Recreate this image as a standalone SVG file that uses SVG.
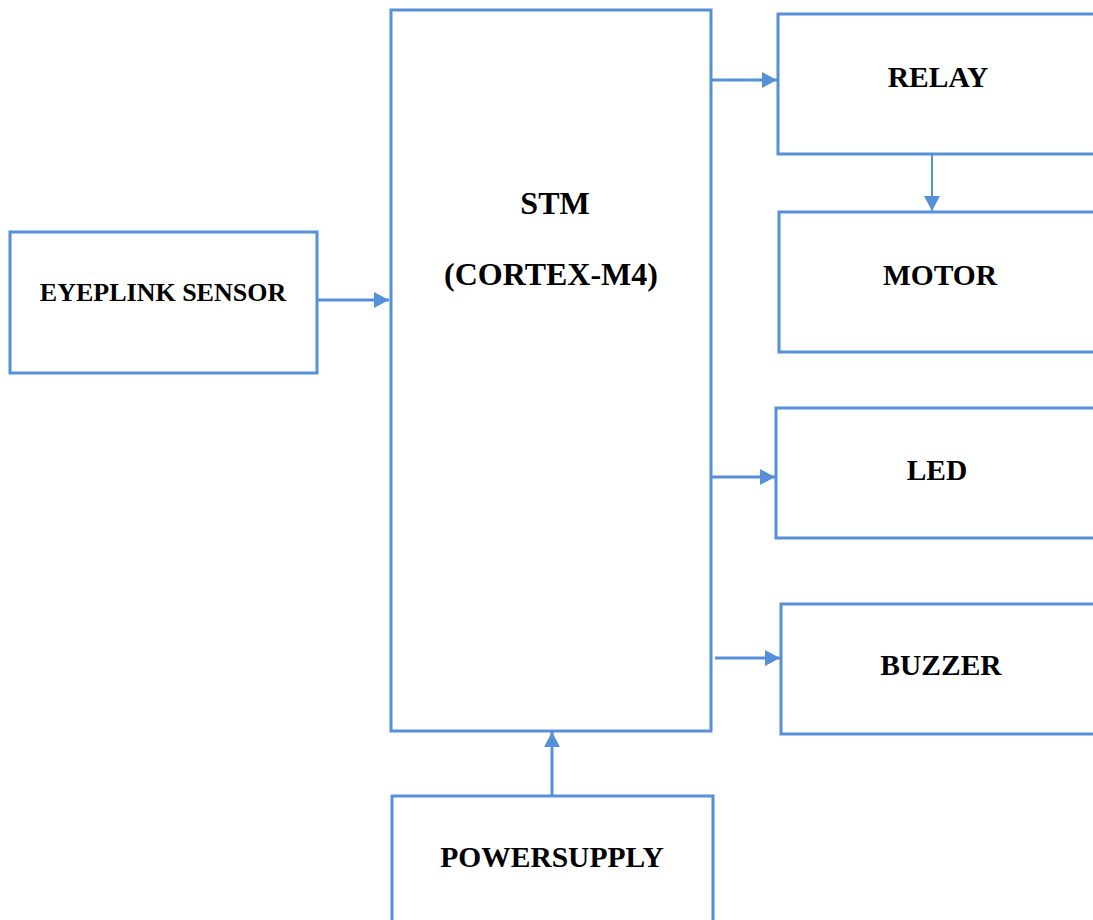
<svg xmlns="http://www.w3.org/2000/svg" width="1093" height="920" viewBox="0 0 1093 920">
<style>
.box{fill:#fff;stroke:#5590D8;stroke-width:3}
.lbl{font-family:"Liberation Serif","Times New Roman",serif;font-weight:bold;font-size:29.5px;fill:#000;text-anchor:middle}
.big{font-size:32px}
.conn{stroke:#5590D8;stroke-width:3;fill:none}
</style>
<defs>
<marker id="ah" markerUnits="userSpaceOnUse" markerWidth="15" markerHeight="16" refX="15" refY="8" orient="auto">
<path d="M0,0 L15,8 L0,16 Z" fill="#5590D8"/>
</marker>
</defs>
<rect width="1093" height="920" fill="#fff"/>
<g id="stm"><rect class="box" x="391" y="10" width="320" height="721"/>
<text class="lbl big" x="555" y="214">STM</text><text class="lbl big" x="551" y="285">(CORTEX-M4)</text></g>
<g id="eyeplink"><rect class="box" x="10" y="232" width="307" height="141"/>
<text class="lbl" x="163" y="301" style="font-size:26px">EYEPLINK SENSOR</text></g>
<g id="relay"><rect class="box" x="778" y="14" width="330" height="140"/>
<text class="lbl" x="938" y="87">RELAY</text></g>
<g id="motor"><rect class="box" x="779" y="212" width="330" height="140"/>
<text class="lbl" x="940" y="285">MOTOR</text></g>
<g id="led"><rect class="box" x="776" y="408" width="330" height="130"/>
<text class="lbl" x="937" y="480">LED</text></g>
<g id="buzzer"><rect class="box" x="781" y="604" width="330" height="130"/>
<text class="lbl" x="941" y="675">BUZZER</text></g>
<g id="powersupply"><rect class="box" x="392" y="796" width="321" height="140"/>
<text class="lbl" x="552" y="867">POWERSUPPLY</text></g>
<g id="connectors">
<line class="conn" x1="711" y1="80" x2="777" y2="80" marker-end="url(#ah)"/>
<line class="conn" x1="932" y1="154" x2="932" y2="211" style="stroke-width:2" marker-end="url(#ah)"/>
<line class="conn" x1="317" y1="300" x2="389" y2="300" marker-end="url(#ah)"/>
<line class="conn" x1="711" y1="477" x2="775" y2="477" marker-end="url(#ah)"/>
<line class="conn" x1="715" y1="658" x2="780" y2="658" marker-end="url(#ah)"/>
<line class="conn" x1="552" y1="795" x2="552" y2="732" marker-end="url(#ah)"/>
</g>
</svg>
